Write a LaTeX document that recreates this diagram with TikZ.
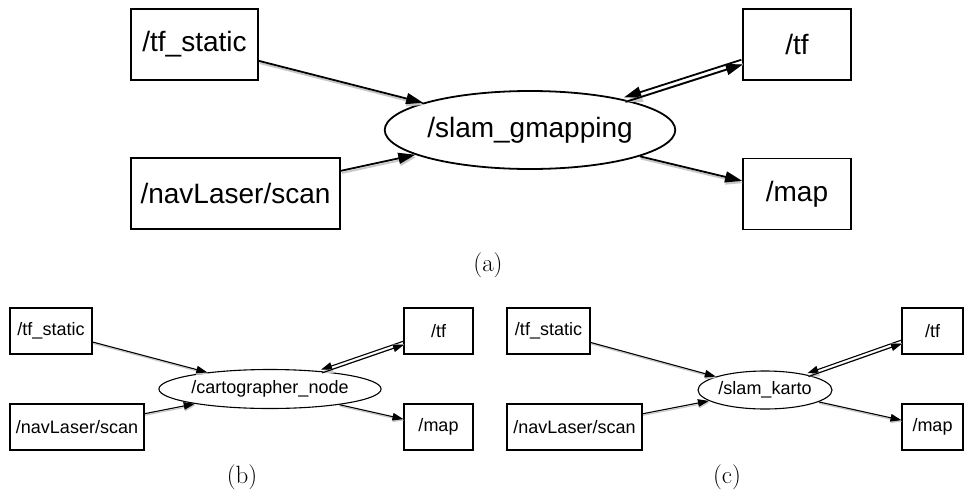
\documentclass[tikz,border=0pt]{standalone}
\usepackage{fontspec}
\newfontfamily\labelfont{Liberation Sans}
\usetikzlibrary{arrows.meta,shapes.geometric}
\tikzset{
  big/.style={line width=1.8pt, font=\labelfont\fontsize{28}{32}\selectfont},
  small/.style={line width=1.1pt, font=\labelfont\fontsize{18}{21}\selectfont},
  topic/.style={draw, rectangle, inner sep=0pt},
  rosnode/.style={draw, ellipse, inner sep=0pt},
  bigedge/.style={line width=1.8pt, -{Triangle[length=17pt,width=11pt]},
    preaction={draw=black!22, transform canvas={shift={(0.8pt,-2.2pt)}}}},
  smalledge/.style={line width=1.1pt, -{Triangle[length=11pt,width=7.5pt]},
    preaction={draw=black!22, transform canvas={shift={(0.5pt,-1.5pt)}}}},
  subcap/.style={font=\fontsize{25}{30}\selectfont, inner sep=0pt},
}
\begin{document}
\begin{tikzpicture}[x=1pt,y=-1pt]
\useasboundingbox (0,0) rectangle (964,496);

% (a) slam_gmapping
\begin{scope}[big]
  \node[topic, minimum width=127pt, minimum height=71pt] (a-tfs) at (194.5,44.5) {/tf\_static};
  \node[topic, minimum width=209pt, minimum height=71pt] (a-scan) at (235.5,193.5) {/navLaser/scan};
  \node[rosnode, minimum width=276pt, minimum height=78pt] (a-slam) at (530,130) {/slam\_gmapping};
  \node[topic, minimum width=108pt, minimum height=71pt] (a-tf) at (797,44.5) {/tf};
  \node[topic, minimum width=108pt, minimum height=71pt] (a-map) at (797,194) {/map};
  \draw[bigedge] (a-tfs) -- (a-slam);
  \draw[bigedge] (a-scan) -- (a-slam);
  \draw[bigedge] (a-slam) -- (a-map);
  \draw[bigedge, transform canvas={shift={(-0.73pt,2.3pt)}}] (a-tf) -- (a-slam);
  \draw[bigedge, transform canvas={shift={(0.73pt,-2.3pt)}}] (a-slam) -- (a-tf);
\end{scope}
\node[subcap] (cap-a) at (488,265) {(a)};

% (b) cartographer
\begin{scope}[small]
  \node[topic, minimum width=82pt, minimum height=46pt] (b-tfs) at (51,331) {/tf\_static};
  \node[topic, minimum width=134pt, minimum height=46pt] (b-scan) at (77,427) {/navLaser/scan};
  \node[rosnode, minimum width=216pt, minimum height=39pt] (b-slam) at (270,389) {/cartographer\_node};
  \node[topic, minimum width=69pt, minimum height=46pt] (b-tf) at (438.5,331) {/tf};
  \node[topic, minimum width=69pt, minimum height=46pt] (b-map) at (438.5,427) {/map};
  \draw[smalledge] (b-tfs) -- (b-slam);
  \draw[smalledge] (b-scan) -- (b-slam);
  \draw[smalledge] (b-slam) -- (b-map);
  \draw[smalledge, transform canvas={shift={(-0.57pt,1.65pt)}}] (b-tf) -- (b-slam);
  \draw[smalledge, transform canvas={shift={(0.57pt,-1.65pt)}}] (b-slam) -- (b-tf);
\end{scope}
\node[subcap] (cap-b) at (242,477) {(b)};

% (c) slam_karto
\begin{scope}[small]
  \node[topic, minimum width=83pt, minimum height=46pt] (c-tfs) at (548.5,331) {/tf\_static};
  \node[topic, minimum width=135pt, minimum height=46pt] (c-scan) at (574.5,427) {/navLaser/scan};
  \node[rosnode, minimum width=134pt, minimum height=38pt] (c-slam) at (765,390) {/slam\_karto};
  \node[topic, minimum width=61pt, minimum height=46pt] (c-tf) at (932.5,331) {/tf};
  \node[topic, minimum width=61pt, minimum height=46pt] (c-map) at (932.5,427) {/map};
  \draw[smalledge] (c-tfs) -- (c-slam);
  \draw[smalledge] (c-scan) -- (c-slam);
  \draw[smalledge] (c-slam) -- (c-map);
  \draw[smalledge, transform canvas={shift={(-0.57pt,1.65pt)}}] (c-tf) -- (c-slam);
  \draw[smalledge, transform canvas={shift={(0.57pt,-1.65pt)}}] (c-slam) -- (c-tf);
\end{scope}
\node[subcap] (cap-c) at (727,477) {(c)};
\end{tikzpicture}
\end{document}
